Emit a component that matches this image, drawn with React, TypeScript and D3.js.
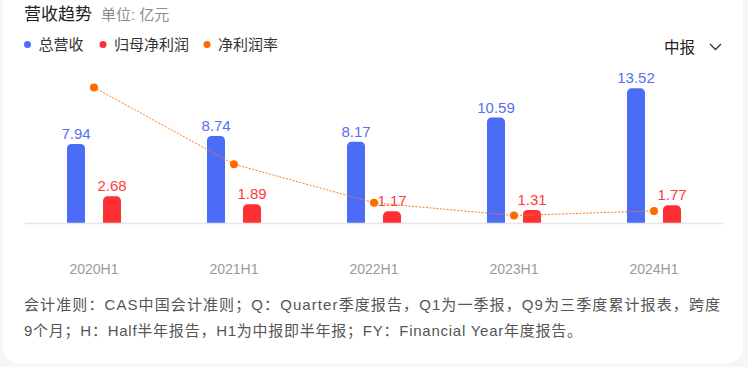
import { useRef, useEffect } from 'react';
import * as d3 from 'd3';

const periods = ['2020H1', '2021H1', '2022H1', '2023H1', '2024H1'];
const revenue = [7.94, 8.74, 8.17, 10.59, 13.52];
const netProfit = [2.68, 1.89, 1.17, 1.31, 1.77];
const netMargin = [33.5, 20.2, 13.5, 11.3, 12.1];

const legendItems = [
  { label: '总营收', color: '#4a6cf7' },
  { label: '归母净利润', color: '#ff3035' },
  { label: '净利润率', color: '#ff6a00' },
];

const noteLines = [
  '会计准则：CAS中国会计准则；Q：Quarter季度报告，Q1为一季报，Q9为三季度累计报表，跨度',
  '9个月；H：Half半年报告，H1为中报即半年报；FY：Financial Year年度报告。',
];

const FONT = '"Liberation Sans", Arial, "Noto Sans CJK SC", sans-serif';
const W = 748;
const H = 367;

function TrendChart() {
  const ref = useRef<SVGSVGElement | null>(null);

  useEffect(() => {
    const svg = d3.select(ref.current);
    svg.selectAll('*').remove();

    // page + card
    svg.append('rect').attr('width', W).attr('height', H).attr('fill', '#f5f6f8');
    svg.append('rect')
      .attr('x', 3).attr('y', -20)
      .attr('width', 740).attr('height', 383)
      .attr('rx', 16)
      .attr('fill', '#ffffff');

    // header
    const title = svg.append('text')
      .attr('x', 24).attr('y', 20)
      .style('font-family', FONT);
    title.append('tspan').attr('font-size', 17).attr('fill', '#222').text('营收趋势');
    title.append('tspan').attr('dx', 9).attr('font-size', 15).attr('fill', '#8a8a8f').text('单位: 亿元');

    const legendX = [27.5, 103, 207];
    legendItems.forEach((d, i) => {
      const g = svg.append('g').attr('transform', `translate(${legendX[i]},44.5)`);
      g.append('circle').attr('r', 3.5).attr('fill', d.color);
      g.append('text')
        .attr('x', 11).attr('y', 5.5)
        .attr('font-size', 15)
        .attr('fill', '#333')
        .style('font-family', FONT)
        .text(d.label);
    });

    svg.append('text')
      .attr('x', 664).attr('y', 53)
      .attr('font-size', 15.5)
      .attr('fill', '#222')
      .style('font-family', FONT)
      .text('中报');
    svg.append('path')
      .attr('d', 'M710,44 L715.5,49.5 L721,44')
      .attr('fill', 'none')
      .attr('stroke', '#333')
      .attr('stroke-width', 1.3);

    // scales
    const baseY = 223;
    const x = d3.scaleBand().domain(periods).range([24, 724]).padding(0);
    const inner = d3.scaleBand().domain(['rev', 'np']).range([-27, 27]).paddingInner(0.5);
    const y = d3.scaleLinear().domain([0, 15]).range([baseY, 73.6]);
    const yM = d3.scaleLinear().domain([10, 36]).range([baseY, 73]);
    const cx = (p: string) => (x(p) ?? 0) + x.bandwidth() / 2;

    const series = [
      { key: 'rev', values: revenue, color: '#4a6cf7', text: '#5670f0' },
      { key: 'np', values: netProfit, color: '#ff3035', text: '#ff3b3b' },
    ];

    const r = 4.5;
    series.forEach(s => {
      const bw = inner.bandwidth();
      svg.append('g').selectAll('path')
        .data(s.values)
        .join('path')
        .attr('fill', s.color)
        .attr('d', (v, i) => {
          const x0 = cx(periods[i]) + (inner(s.key) ?? 0);
          const y0 = y(v);
          const p = d3.path();
          p.moveTo(x0, baseY);
          p.lineTo(x0, y0 + r);
          p.arcTo(x0, y0, x0 + r, y0, r);
          p.lineTo(x0 + bw - r, y0);
          p.arcTo(x0 + bw, y0, x0 + bw, y0 + r, r);
          p.lineTo(x0 + bw, baseY);
          p.closePath();
          return p.toString();
        });

      svg.append('g').selectAll('text')
        .data(s.values)
        .join('text')
        .attr('x', (v, i) => cx(periods[i]) + (inner(s.key) ?? 0) + bw / 2)
        .attr('y', v => y(v) - 5)
        .attr('text-anchor', 'middle')
        .attr('font-size', 15)
        .attr('fill', s.text)
        .style('font-family', FONT)
        .text(v => v.toFixed(2));
    });

    // axis baseline
    svg.append('line')
      .attr('x1', 25).attr('x2', 724)
      .attr('y1', baseY + 0.5).attr('y2', baseY + 0.5)
      .attr('stroke', '#e6e6e6')
      .attr('stroke-width', 1.5);

    svg.append('g').selectAll('text')
      .data(periods)
      .join('text')
      .attr('x', d => cx(d))
      .attr('y', 274)
      .attr('text-anchor', 'middle')
      .attr('font-size', 14)
      .attr('fill', '#9a9aa3')
      .style('font-family', FONT)
      .text(d => d);

    // margin line
    const line = d3.line<number>()
      .x((_, i) => cx(periods[i]))
      .y(v => yM(v));
    svg.append('path')
      .datum(netMargin)
      .attr('d', line)
      .attr('fill', 'none')
      .attr('stroke', '#ff7a1a')
      .attr('stroke-width', 1)
      .attr('stroke-dasharray', '2,1.5');
    svg.append('g').selectAll('circle')
      .data(netMargin)
      .join('circle')
      .attr('cx', (_, i) => cx(periods[i]))
      .attr('cy', v => yM(v))
      .attr('r', 4)
      .attr('fill', '#ff6a00');

    // footnote
    const noteWidths = [696, 558];
    svg.append('g').selectAll('text')
      .data(noteLines)
      .join('text')
      .attr('x', 24)
      .attr('y', (_, i) => 310 + i * 25.5)
      .attr('font-size', 15)
      .attr('fill', '#555')
      .attr('textLength', (_, i) => noteWidths[i])
      .attr('lengthAdjust', 'spacing')
      .style('font-family', FONT)
      .text(d => d);
  }, []);

  return <svg ref={ref} width={W} height={H} style={{ display: 'block' }} />;
}

export default function App() {
  return (
    <div style={{ position: 'absolute', left: 0, top: 0, width: W, height: H }}>
      <TrendChart />
    </div>
  );
}
